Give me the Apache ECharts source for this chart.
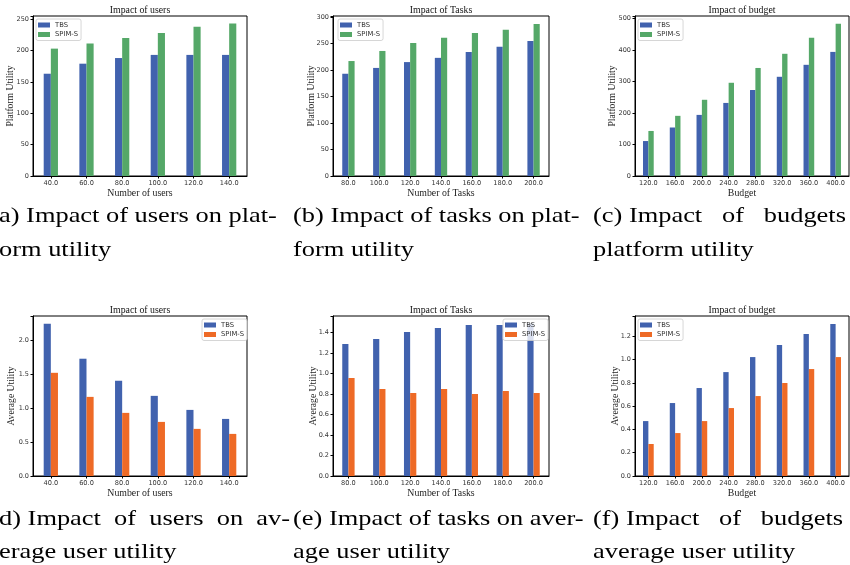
<!DOCTYPE html>
<html>
<head>
<meta charset="utf-8">
<script src="https://cdn.jsdelivr.net/npm/echarts@6/dist/echarts.min.js"></script>
<style>
html,body{margin:0;padding:0;background:#fff;}
#chart{width:850px;height:565px;}
</style>
</head>
<body>
<div id="chart"></div>
<script>
// ---- categories ----
const usersCats = ['40.0', '60.0', '80.0', '100.0', '120.0', '140.0'];
const tasksCats = ['80.0', '100.0', '120.0', '140.0', '160.0', '180.0', '200.0'];
const budgetCats = ['120.0', '160.0', '200.0', '240.0', '280.0', '320.0', '360.0', '400.0'];

// ---- platform utility ----
const usersPlatformTBS = [163, 179, 188, 193, 193, 193];
const usersPlatformSPIM = [203, 211, 220, 228, 238, 243];
const tasksPlatformTBS = [193, 204, 215, 223, 234, 244, 255];
const tasksPlatformSPIM = [217, 236, 251, 261, 270, 276, 287];
const budgetPlatformTBS = [111, 154, 194, 232, 273, 315, 353, 394];
const budgetPlatformSPIM = [143, 191, 242, 296, 343, 388, 439, 483];

// ---- average user utility ----
const usersAvgTBS = [2.245, 1.73, 1.405, 1.182, 0.975, 0.842];
const usersAvgSPIM = [1.522, 1.167, 0.931, 0.798, 0.695, 0.621];
const tasksAvgTBS = [1.286, 1.335, 1.403, 1.442, 1.471, 1.471, 1.485];
const tasksAvgSPIM = [0.955, 0.848, 0.809, 0.848, 0.799, 0.828, 0.809];
const budgetAvgTBS = [0.472, 0.627, 0.756, 0.893, 1.022, 1.125, 1.22, 1.306];
const budgetAvgSPIM = [0.275, 0.369, 0.472, 0.584, 0.687, 0.799, 0.919, 1.022];

// ---- texts ----
const seriesNames = ['TBS', 'SPIM-S'];
const panelTitles = ['Impact of users', 'Impact of Tasks', 'Impact of budget', 'Impact of users', 'Impact of Tasks', 'Impact of budget'];
const xNames = ['Number of users', 'Number of Tasks', 'Budget', 'Number of users', 'Number of Tasks', 'Budget'];
const yNames = ['Platform Utility', 'Platform Utility', 'Platform Utility', 'Average Utility', 'Average Utility', 'Average Utility'];
const yMaxes = [255, 302, 508, 2.36, 1.559, 1.375];
const yIntervals = [50, 50, 100, 0.5, 0.2, 0.2];
const captionLines = [
  ['a) Impact of users on plat-', 'orm utility'],
  ['(b) Impact of tasks on plat-', 'form utility'],
  ['(c) Impact   of   budgets', 'platform utility'],
  ['d) Impact  of  users  on  av-', 'erage user utility'],
  ['(e) Impact of tasks on aver-', 'age user utility'],
  ['(f) Impact   of   budgets', 'average user utility']
];

const BLUE = '#4162AE';
const GREEN = '#55A868';
const ORANGE = '#EE6A26';

const panels = [
  { cats: usersCats, a: usersPlatformTBS, b: usersPlatformSPIM, c2: GREEN, dec: 0 },
  { cats: tasksCats, a: tasksPlatformTBS, b: tasksPlatformSPIM, c2: GREEN, dec: 0 },
  { cats: budgetCats, a: budgetPlatformTBS, b: budgetPlatformSPIM, c2: GREEN, dec: 0 },
  { cats: usersCats, a: usersAvgTBS, b: usersAvgSPIM, c2: ORANGE, dec: 1 },
  { cats: tasksCats, a: tasksAvgTBS, b: tasksAvgSPIM, c2: ORANGE, dec: 1 },
  { cats: budgetCats, a: budgetAvgTBS, b: budgetAvgSPIM, c2: ORANGE, dec: 1 }
];

// layout (pixels)
const gridBoxes = [
  { left: 33, top: 16, width: 214, height: 160 },
  { left: 333, top: 16, width: 216, height: 160 },
  { left: 635, top: 16, width: 214, height: 160 },
  { left: 33, top: 316, width: 214, height: 160 },
  { left: 333, top: 316, width: 216, height: 160 },
  { left: 635, top: 316, width: 214, height: 160 }
];
const yNameGaps = [18, 16.5, 17.7, 16.5, 14.2, 15];
const legendPos = [
  { left: 36, top: 19 }, { left: 338, top: 19 }, { left: 638, top: 19 },
  { left: 202, top: 319 }, { left: 503, top: 319 }, { left: 638, top: 319 }
];
const captionX = [-1, 293, 593, -1, 293, 593];
const captionY = [[216, 250], [216, 250], [216, 250], [519, 552], [519, 552], [519, 552]];

const grid = [], xAxis = [], yAxis = [], series = [], legend = [], graphic = [];
const SANS = 'DejaVu Sans';
const SERIF = 'Liberation Serif';

panels.forEach((p, i) => {
  const g = gridBoxes[i];
  grid.push(Object.assign({ show: true, borderColor: '#000', borderWidth: 1, backgroundColor: 'transparent', containLabel: false }, g));
  xAxis.push({
    type: 'category', gridIndex: i, data: p.cats,
    axisLine: { show: true, lineStyle: { color: '#000', width: 1 } },
    axisTick: { show: true, alignWithLabel: true, length: 2.5, lineStyle: { color: '#000' } },
    axisLabel: { fontSize: 6.6, fontFamily: SANS, color: '#333', margin: 4 },
    name: xNames[i], nameLocation: 'middle', nameGap: 12, nameMoveOverlap: false,
    nameTextStyle: { fontFamily: SERIF, fontSize: 9.8, color: '#222' }
  });
  const iv = yIntervals[i];
  yAxis.push({
    type: 'value', gridIndex: i, min: 0, max: yMaxes[i], interval: iv,
    splitLine: { show: false },
    axisLine: { show: true, lineStyle: { color: '#000', width: 1 } },
    axisTick: { show: true, length: 2.5, lineStyle: { color: '#000' } },
    axisLabel: {
      fontSize: 6.5, fontFamily: SANS, color: '#333', margin: 4,
      formatter: (v) => {
        const r = v / iv;
        if (Math.abs(r - Math.round(r)) > 1e-6) return '';
        return p.dec ? v.toFixed(1) : String(Math.round(v));
      }
    },
    name: yNames[i], nameLocation: 'middle', nameGap: yNameGaps[i], nameMoveOverlap: false,
    nameTextStyle: { fontFamily: SERIF, fontSize: 9.6, color: '#222' }
  });
  series.push({
    type: 'bar', name: seriesNames[0], xAxisIndex: i, yAxisIndex: i, data: p.a,
    barWidth: '20%', barGap: '0%', itemStyle: { color: BLUE }
  });
  series.push({
    type: 'bar', name: seriesNames[1], xAxisIndex: i, yAxisIndex: i, data: p.b,
    barWidth: '20%', barGap: '0%', itemStyle: { color: p.c2 }
  });
  legend.push(Object.assign({
    orient: 'vertical', icon: 'rect', itemWidth: 12, itemHeight: 5, itemGap: 1.5,
    padding: [2, 3, 2, 2], borderColor: '#cccccc', borderWidth: 0.8, borderRadius: 2,
    backgroundColor: 'rgba(255,255,255,0.8)', selectedMode: false,
    textStyle: { fontSize: 6.8, fontFamily: SANS, color: '#333', lineHeight: 8 },
    data: [{ name: seriesNames[0], itemStyle: { color: BLUE } }, { name: seriesNames[1], itemStyle: { color: p.c2 } }]
  }, legendPos[i]));
  graphic.push({
    type: 'text', x: g.left + g.width / 2, y: g.top - 6,
    style: { text: panelTitles[i], font: '9.8px "' + SERIF + '"', fill: '#111', textAlign: 'center', textVerticalAlign: 'middle' }
  });
  captionLines[i].forEach((line, k) => {
    graphic.push({
      type: 'text', x: captionX[i], y: captionY[i][k], scaleX: 1.2, scaleY: 1,
      style: { text: line, font: '22px "' + SERIF + '"', fill: '#000', textAlign: 'left', textVerticalAlign: 'middle' }
    });
  });
});

const chart = echarts.init(document.getElementById('chart'), null, { renderer: 'canvas' });
chart.setOption({
  animation: false,
  backgroundColor: '#fff',
  grid, xAxis, yAxis, series, legend, graphic
});
</script>
</body>
</html>
